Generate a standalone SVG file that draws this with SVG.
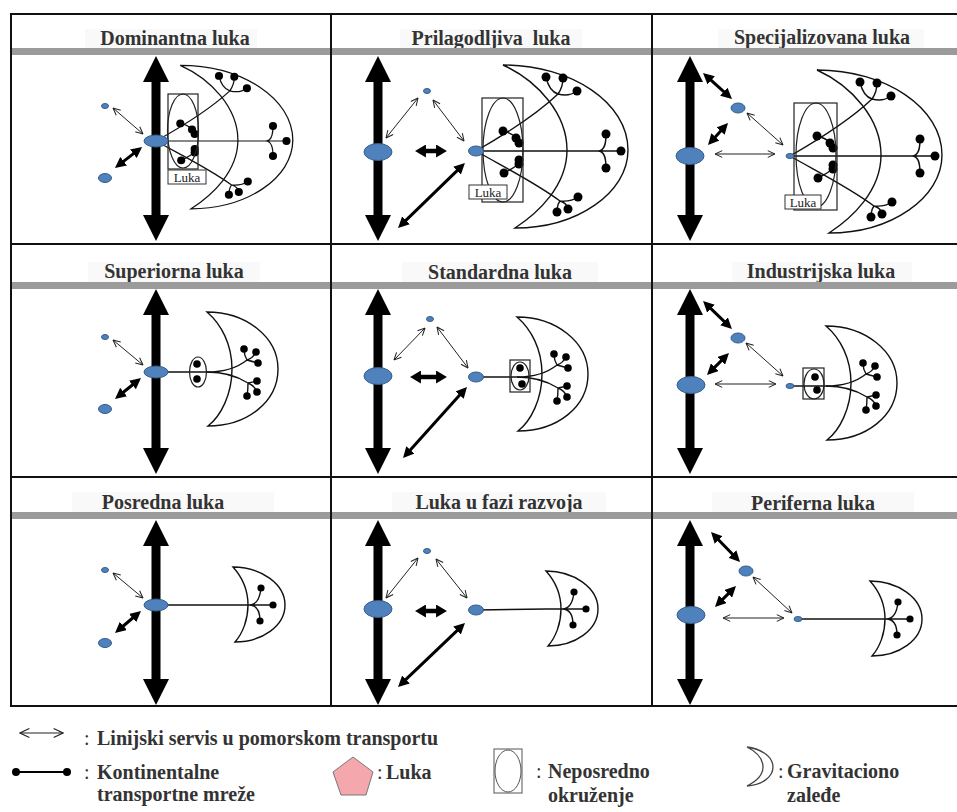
<svg xmlns="http://www.w3.org/2000/svg" xmlns:xlink="http://www.w3.org/1999/xlink" width="957" height="812" viewBox="0 0 957 812">
<style>
  .ttl{font-family:"Liberation Serif","Times New Roman",serif;font-weight:bold;font-size:20px;fill:#333;text-anchor:middle}
  .leg{font-family:"Liberation Serif","Times New Roman",serif;font-weight:bold;font-size:20px;fill:#333}
  .col{font-family:"Liberation Serif","Times New Roman",serif;font-size:20px;fill:#333}
  .lbl{font-family:"Liberation Serif","Times New Roman",serif;font-size:13px;fill:#222;text-anchor:middle}
  .tbg{fill:#f9f9f9}
  .bar{fill:#9b9b9b}
  .grid{fill:none;stroke:#111;stroke-width:2}
  .port{fill:#4f81bd;stroke:#385d8a;stroke-width:1}
  .ln{fill:none;stroke:#111;stroke-width:1.4}
  .dot{fill:#000}
  .env{fill:none;stroke:#222;stroke-width:1.2}
  .box{fill:#fff;stroke:#333;stroke-width:1}
  .thin{fill:none;stroke:#222;stroke-width:1;marker-start:url(#hThin);marker-end:url(#hThin)}
  .thick{fill:none;stroke:#000;stroke-width:3;marker-start:url(#hThick);marker-end:url(#hThick)}
  .heavy{fill:none;stroke:#000;stroke-width:4.5;marker-start:url(#hHeavy);marker-end:url(#hHeavy)}
</style>
<defs>
  <marker id="hThin" viewBox="0 0 10 10" refX="9.5" refY="5" markerWidth="8.5" markerHeight="8.5" markerUnits="userSpaceOnUse" orient="auto-start-reverse">
    <path d="M1,1 L9.5,5 L1,9" fill="none" stroke="#222" stroke-width="1.2"/>
  </marker>
  <marker id="hThinL" viewBox="0 0 10 10" refX="9.5" refY="5" markerWidth="11" markerHeight="11" markerUnits="userSpaceOnUse" orient="auto-start-reverse">
    <path d="M1,1 L9.5,5 L1,9" fill="none" stroke="#222" stroke-width="1"/>
  </marker>
  <marker id="hThick" viewBox="0 0 10 10" refX="5" refY="5" markerWidth="11" markerHeight="11" markerUnits="userSpaceOnUse" orient="auto-start-reverse">
    <path d="M0,0 L10,5 L0,10 Z" fill="#000"/>
  </marker>
  <marker id="hHeavy" viewBox="0 0 10 12" refX="5" refY="6" markerWidth="11" markerHeight="13" markerUnits="userSpaceOnUse" orient="auto-start-reverse">
    <path d="M0,0 L10,6 L0,12 Z" fill="#000"/>
  </marker>

  <!-- continental corridor: heavy vertical double arrow, 185 px long -->
  <path id="bigArrow" d="M0,0 L13,26 L4.5,26 L4.5,159 L13,159 L0,185 L-13,159 L-4.5,159 L-4.5,26 L-13,26 Z" fill="#000"/>

  <!-- large hinterland: crescent, three inland trees, clusters near the port (origin = port) -->
  <g id="hinterL">
    <path class="ln" d="M27,-86 C96,-86 152,-48 152,-1 C152,42 101,77 39,77 C62,62 91,35 91,-1 C91,-37 62,-70 27,-86 Z"/>
    <path class="ln" d="M0,0 C28,-16 60,-36 82,-57 M82,-57 Q73,-60 70,-74 M82,-57 Q87,-64 87,-73 M82,-57 Q93,-54 101,-60"/>
    <path class="ln" d="M0,0 H145 M122,0 C129,0 130,-8 130,-17 M122,0 C129,0 130,8 130,17"/>
    <path class="ln" d="M0,0 C28,16 60,32 84,50 M84,50 Q81,54 81,61 M84,50 Q91,52 92,58 M84,50 Q95,51 102,46"/>
    <path class="ln" d="M27,-20 Q36,-18 40,-13 L43,-8 M43,9 L43,13 Q36,18 28,22"/>
    <g class="dot">
      <circle cx="70" cy="-74" r="4.5"/><circle cx="87" cy="-73" r="4.5"/><circle cx="101" cy="-60" r="4.5"/>
      <circle cx="130" cy="-17" r="4.5"/><circle cx="145" cy="0" r="4.5"/><circle cx="130" cy="17" r="4.5"/>
      <circle cx="81" cy="61" r="4.5"/><circle cx="92" cy="58" r="4.5"/><circle cx="102" cy="46" r="4.5"/>
      <circle cx="27" cy="-20" r="4.5"/><circle cx="40" cy="-13" r="4.5"/><circle cx="43" cy="-8" r="4.5"/>
      <circle cx="43" cy="9" r="4.5"/><circle cx="43" cy="13" r="4.5"/><circle cx="28" cy="22" r="4.5"/>
    </g>
  </g>

  <!-- medium hinterland: crescent with two trees (origin = crescent tips line) -->
  <g id="hinterM">
    <path class="ln" d="M0,-60 C39,-60 71,-35 71,-3 C71,30 40,54 1,54 C14,44 25,22 25,-3 C25,-28 14,-48 0,-60 Z"/>
    <path class="ln" d="M0,0 C18,0 30,-4 40,-12 M40,-12 Q37,-17 37,-23 M40,-12 Q46,-14 49,-20 M40,-12 Q47,-10 51,-9"/>
    <path class="ln" d="M0,0 C18,0 30,4 41,11 M41,11 Q46,10 50,9 M41,11 Q48,14 50,20 M41,11 Q41,18 40,24"/>
    <g class="dot">
      <circle cx="37" cy="-23" r="3.8"/><circle cx="49" cy="-20" r="3.8"/><circle cx="51" cy="-9" r="3.8"/>
      <circle cx="50" cy="9" r="3.8"/><circle cx="50" cy="20" r="3.8"/><circle cx="40" cy="24" r="3.8"/>
    </g>
  </g>

  <!-- small hinterland: crescent with a single tree -->
  <g id="hinterS">
    <path class="ln" d="M-1,-38 C27,-38 51,-21 51,0 C51,21 28,37 1,37 C9,28 14,14 14,0 C14,-14 8,-28 -1,-38 Z"/>
    <path class="ln" d="M0,0 H39 M15,0 C23,0 26,-7 27,-17 M15,0 C23,0 26,7 26,16"/>
    <g class="dot">
      <circle cx="27" cy="-17" r="3.6"/><circle cx="39" cy="0" r="3.6"/><circle cx="26" cy="16" r="3.6"/>
    </g>
  </g>
</defs>

<rect width="957" height="812" fill="#fff"/>

<!-- panel titles -->
<g id="titles">
  <rect class="tbg" x="85" y="29" width="172" height="20"/>
  <rect class="tbg" x="400" y="29" width="182" height="20"/>
  <rect class="tbg" x="718" y="29" width="206" height="20"/>
  <rect class="tbg" x="88" y="262" width="172" height="20"/>
  <rect class="tbg" x="402" y="262" width="196" height="20"/>
  <rect class="tbg" x="732" y="262" width="180" height="20"/>
  <rect class="tbg" x="72" y="492" width="202" height="20"/>
  <rect class="tbg" x="392" y="492" width="214" height="20"/>
  <rect class="tbg" x="712" y="492" width="202" height="20"/>
  <text class="ttl" x="175" y="45">Dominantna luka</text>
  <text class="ttl" x="491" y="45" xml:space="preserve">Prilagodljiva  luka</text>
  <text class="ttl" x="822" y="44">Specijalizovana luka</text>
  <text class="ttl" x="174" y="278">Superiorna luka</text>
  <text class="ttl" x="500" y="279">Standardna luka</text>
  <text class="ttl" x="821" y="278">Industrijska luka</text>
  <text class="ttl" x="163" y="509">Posredna luka</text>
  <text class="ttl" x="499" y="509">Luka u fazi razvoja</text>
  <text class="ttl" x="813" y="510">Periferna luka</text>
</g>

<!-- table frame -->
<g id="grid">
  <rect class="bar" x="11" y="48" width="946" height="7"/>
  <rect class="bar" x="11" y="282" width="946" height="7"/>
  <rect class="bar" x="11" y="512" width="946" height="7"/>
  <rect class="grid" x="11" y="14" width="952" height="692"/>
  <path class="grid" d="M11,244 H957 M11,477 H957 M331,14 V706 M652,14 V706"/>
</g>

<!-- Row 1 -->
<g id="dominantna">
  <use xlink:href="#bigArrow" x="156" y="56"/>
  <use xlink:href="#hinterL" transform="translate(156,141) scale(0.9,0.88)"/>
  <rect class="env" x="168" y="94" width="30" height="75"/>
  <ellipse class="env" cx="183" cy="131" rx="15.5" ry="37"/>
  <rect class="box" x="168" y="170" width="38" height="14"/>
  <text class="lbl" x="187" y="181.5">Luka</text>
  <g class="links">
    <path class="thin" d="M113,108 L143,134"/>
    <path class="thick" d="M119.3,164.6 L137.7,150.4"/>
  </g>
  <ellipse class="port" cx="105" cy="106" rx="3.5" ry="2.5"/>
  <ellipse class="port" cx="105" cy="178" rx="6.5" ry="4.5"/>
  <ellipse class="port" cx="156" cy="141" rx="12" ry="6"/>
</g>

<g id="prilagodljiva">
  <use xlink:href="#bigArrow" x="378" y="56"/>
  <use xlink:href="#hinterL" transform="translate(476,151)"/>
  <rect class="env" x="482" y="98" width="41" height="104"/>
  <ellipse class="env" cx="503" cy="150" rx="20" ry="52"/>
  <rect class="box" x="469" y="185" width="38" height="14"/>
  <text class="lbl" x="488" y="196.5">Luka</text>
  <g class="links">
    <path class="thin" d="M418,98 L386,138"/>
    <path class="thin" d="M433,100 L464,141"/>
    <path class="heavy" d="M420.5,151 L441.5,151"/>
    <path class="thick" d="M402,224.2 L461,166.8"/>
  </g>
  <ellipse class="port" cx="378" cy="152" rx="14" ry="8.5"/>
  <ellipse class="port" cx="427" cy="91" rx="3.5" ry="2.5"/>
  <ellipse class="port" cx="476" cy="151" rx="7.5" ry="5"/>
</g>

<g id="specijalizovana">
  <use xlink:href="#bigArrow" x="690" y="56"/>
  <use xlink:href="#hinterL" transform="translate(790,156)"/>
  <rect class="env" x="794" y="103" width="43" height="107"/>
  <ellipse class="env" cx="816" cy="155" rx="20" ry="52"/>
  <rect class="box" x="785" y="195" width="36" height="14"/>
  <text class="lbl" x="803" y="206.5">Luka</text>
  <g class="links">
    <path class="thick" d="M707.1,76.7 L727.9,95.3"/>
    <path class="thick" d="M711.7,140.9 L724.3,127.1"/>
    <path class="thin" d="M747,113 L783,145"/>
    <path class="thin" d="M715,154 L775,154"/>
  </g>
  <ellipse class="port" cx="690" cy="156" rx="14" ry="8.5"/>
  <ellipse class="port" cx="738" cy="108" rx="7" ry="5"/>
  <ellipse class="port" cx="790" cy="156" rx="4" ry="2.5"/>
</g>

<!-- Row 2 -->
<g id="superiorna">
  <use xlink:href="#bigArrow" x="156" y="289"/>
  <path class="ln" d="M156,372 H207"/>
  <use xlink:href="#hinterM" transform="translate(207,372)"/>
  <ellipse class="env" cx="198" cy="372" rx="8.5" ry="15"/>
  <circle class="dot" cx="197" cy="364" r="3.8"/>
  <circle class="dot" cx="197" cy="379" r="3.8"/>
  <g class="links">
    <path class="thin" d="M113,340 L143,365"/>
    <path class="thick" d="M119.3,395.5 L136.7,381.5"/>
  </g>
  <ellipse class="port" cx="105" cy="337" rx="3.5" ry="2.5"/>
  <ellipse class="port" cx="105" cy="409" rx="6.5" ry="4.5"/>
  <ellipse class="port" cx="156" cy="372" rx="12" ry="6"/>
</g>

<g id="standardna">
  <use xlink:href="#bigArrow" x="378" y="289"/>
  <path class="ln" d="M476,377 H517"/>
  <use xlink:href="#hinterM" transform="translate(517,377)"/>
  <rect class="env" x="510" y="360" width="20" height="32"/>
  <ellipse class="env" cx="520" cy="376" rx="9" ry="14"/>
  <circle class="dot" cx="520" cy="368" r="3.8"/>
  <circle class="dot" cx="522" cy="384" r="3.8"/>
  <g class="links">
    <path class="thin" d="M425,328 L394,360"/>
    <path class="thin" d="M437,327 L468,368"/>
    <path class="heavy" d="M415.5,377 L441.5,377"/>
    <path class="thick" d="M406.7,453.9 L463.3,391.1"/>
  </g>
  <ellipse class="port" cx="378" cy="376" rx="14" ry="8.5"/>
  <ellipse class="port" cx="430" cy="319" rx="3.5" ry="2.5"/>
  <ellipse class="port" cx="476" cy="377" rx="7.5" ry="5"/>
</g>

<g id="industrijska">
  <use xlink:href="#bigArrow" x="690" y="289"/>
  <path class="ln" d="M790,386 H826"/>
  <use xlink:href="#hinterM" transform="translate(826,386)"/>
  <rect class="env" x="803" y="368" width="21" height="31"/>
  <ellipse class="env" cx="814" cy="384" rx="10" ry="15"/>
  <circle class="dot" cx="815" cy="377" r="3.8"/>
  <circle class="dot" cx="817" cy="390" r="3.8"/>
  <g class="links">
    <path class="thick" d="M707,304.8 L728,325.2"/>
    <path class="thick" d="M710.9,371.1 L725.1,356.9"/>
    <path class="thin" d="M746,343 L783,376"/>
    <path class="thin" d="M715,384 L776,384"/>
  </g>
  <ellipse class="port" cx="691" cy="385" rx="14" ry="8.5"/>
  <ellipse class="port" cx="738" cy="338" rx="7" ry="5"/>
  <ellipse class="port" cx="790" cy="386" rx="4" ry="2.5"/>
</g>

<!-- Row 3 -->
<g id="posredna">
  <use xlink:href="#bigArrow" x="156" y="520"/>
  <path class="ln" d="M156,605 H234"/>
  <use xlink:href="#hinterS" transform="translate(234,605)"/>
  <g class="links">
    <path class="thin" d="M113,573 L143,598"/>
    <path class="thick" d="M119.2,629.5 L136.8,614.5"/>
  </g>
  <ellipse class="port" cx="105" cy="570" rx="3.5" ry="2.5"/>
  <ellipse class="port" cx="105" cy="643" rx="6.5" ry="4.5"/>
  <ellipse class="port" cx="156" cy="605" rx="12" ry="6"/>
</g>

<g id="luka-u-fazi-razvoja">
  <use xlink:href="#bigArrow" x="378" y="520"/>
  <path class="ln" d="M476,610 L547,609"/>
  <use xlink:href="#hinterS" transform="translate(547,609)"/>
  <g class="links">
    <path class="thin" d="M418,558 L386,598"/>
    <path class="thin" d="M436,559 L467,598"/>
    <path class="heavy" d="M420.5,611 L441.5,611"/>
    <path class="thick" d="M402,683.2 L461,626.8"/>
  </g>
  <ellipse class="port" cx="378" cy="609" rx="14" ry="8.5"/>
  <ellipse class="port" cx="427" cy="551" rx="3.5" ry="2.5"/>
  <ellipse class="port" cx="476" cy="610" rx="7.5" ry="5"/>
</g>

<g id="periferna">
  <use xlink:href="#bigArrow" x="690" y="520"/>
  <path class="ln" d="M798,619 H871"/>
  <use xlink:href="#hinterS" transform="translate(871,619)"/>
  <g class="links">
    <path class="thick" d="M714.8,536 L736.2,558"/>
    <path class="thick" d="M718.9,603.1 L732.1,589.9"/>
    <path class="thin" d="M753,577 L792,613"/>
    <path class="thin" d="M723,618 L784,618"/>
  </g>
  <ellipse class="port" cx="691" cy="615" rx="14" ry="8.5"/>
  <ellipse class="port" cx="746" cy="571" rx="7" ry="5"/>
  <ellipse class="port" cx="798" cy="619" rx="4" ry="2.5"/>
</g>

<!-- key -->
<g id="legend">
  <path d="M20,733 H63" fill="none" stroke="#222" stroke-width="1.2" marker-start="url(#hThinL)" marker-end="url(#hThinL)"/>
  <text class="col" x="84" y="745">:</text>
  <text class="leg" x="97" y="745">Linijski servis u pomorskom transportu</text>

  <path d="M16,772 H67" stroke="#000" stroke-width="2"/>
  <circle class="dot" cx="16" cy="772" r="4"/>
  <circle class="dot" cx="67" cy="772" r="4"/>
  <text class="col" x="84" y="779">:</text>
  <text class="leg" x="97" y="779">Kontinentalne</text>
  <text class="leg" x="97" y="801">transportne mreže</text>

  <polygon points="353,757 373,772 366,795 341,795 333,772" fill="#f4a8ad" stroke="#777" stroke-width="1"/>
  <text class="col" x="377" y="779">:</text>
  <text class="leg" x="386" y="779">Luka</text>

  <rect x="494" y="749" width="28" height="44" fill="none" stroke="#555" stroke-width="1"/>
  <ellipse cx="508" cy="771" rx="13" ry="21" fill="none" stroke="#555" stroke-width="1"/>
  <text class="col" x="536" y="778">:</text>
  <text class="leg" x="548" y="778">Neposredno</text>
  <text class="leg" x="548" y="802">okruženje</text>

  <path d="M747,747 C762,749 773,757 773,767 C773,777 762,785 747,786 C757,781 763,775 763,767 C763,758 757,752 747,747 Z" fill="none" stroke="#444" stroke-width="1.3"/>
  <text class="col" x="778" y="778">:</text>
  <text class="leg" x="787" y="778">Gravitaciono</text>
  <text class="leg" x="787" y="802">zaleđe</text>
</g>
</svg>
